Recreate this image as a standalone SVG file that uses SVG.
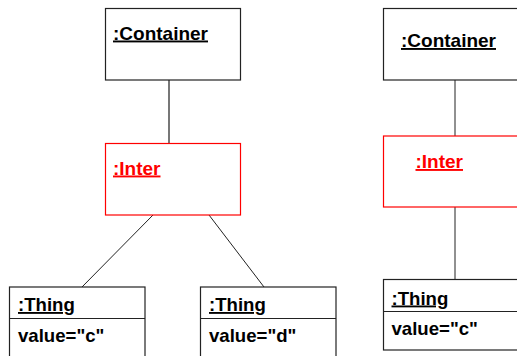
<svg xmlns="http://www.w3.org/2000/svg" width="517" height="356" viewBox="0 0 517 356">
<style>
.box{fill:#fff;stroke:#222;stroke-width:1.2}
.red{fill:#fff;stroke:#ff0000;stroke-width:1.2}
.t{font-family:"Liberation Sans",Arial,sans-serif;font-weight:bold;font-size:18.6px;fill:#000}
.u{text-decoration:underline}
.rt{fill:#ff0000}
.c{stroke:#222;stroke-width:1;fill:none}
.cg{stroke:#777;stroke-width:2;fill:none}
</style>
<rect width="517" height="356" fill="#fff"/>
<g id="connectors">
<line class="cg" x1="169" y1="80" x2="169" y2="143"/>
<line class="c" x1="153" y1="215" x2="82" y2="287"/>
<line class="c" x1="209" y1="215" x2="264" y2="287"/>
<line class="c" x1="455" y1="80" x2="455" y2="136"/>
<line class="c" x1="455" y1="207" x2="455" y2="279"/>
</g>
<g id="container1">
<rect class="box" x="105.5" y="8.5" width="135" height="71.5"/>
<text class="t u" x="113" y="39.5" style="font-size:19px">:Container</text>
</g>
<g id="inter1">
<rect class="red" x="105.5" y="143.5" width="135" height="71.5"/>
<text class="t u rt" x="113" y="174.5" style="font-size:19px">:Inter</text>
</g>
<g id="thing1">
<rect class="box" x="9.5" y="287" width="135.5" height="80"/>
<line class="box" x1="9.5" y1="318.5" x2="145" y2="318.5"/>
<text class="t u" x="18" y="311">:Thing</text>
<text class="t" x="18" y="341.5">value="c"</text>
</g>
<g id="thing2">
<rect class="box" x="200.5" y="287" width="135.5" height="80"/>
<line class="box" x1="200.5" y1="318.5" x2="336" y2="318.5"/>
<text class="t u" x="209" y="311">:Thing</text>
<text class="t" x="209" y="341.5">value="d"</text>
</g>
<g id="container2">
<rect class="box" x="383.5" y="8.5" width="140" height="71.5"/>
<text class="t u" x="401" y="47" style="font-size:19px">:Container</text>
</g>
<g id="inter2">
<rect class="red" x="383.5" y="136" width="140" height="71"/>
<text class="t u rt" x="415.5" y="168" style="font-size:19px">:Inter</text>
</g>
<g id="thing3">
<rect class="box" x="383.5" y="279.5" width="140" height="70.5"/>
<line class="box" x1="383.5" y1="311.5" x2="523.5" y2="311.5"/>
<text class="t u" x="391.5" y="304.5">:Thing</text>
<text class="t" x="391.5" y="335">value="c"</text>
</g>
</svg>
